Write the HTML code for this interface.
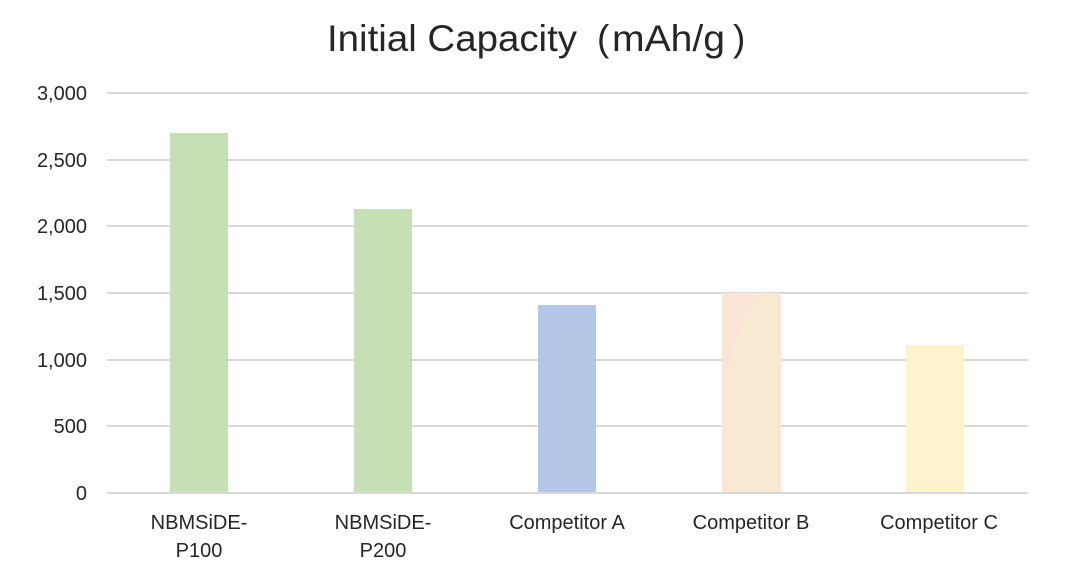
<!DOCTYPE html>
<html><head><style>
body{margin:0;background:#fff;}
svg text{font-family:"Liberation Sans",sans-serif;fill:#262626;}
</style></head><body>
<svg width="1072" height="572" xmlns="http://www.w3.org/2000/svg">
<rect width="1072" height="572" fill="#fff"/>
<text x="327" y="51" font-size="37" textLength="250" lengthAdjust="spacingAndGlyphs">Initial Capacity</text>
<text x="597" y="51" font-size="37">(</text>
<text x="612" y="51" font-size="37" textLength="113" lengthAdjust="spacingAndGlyphs">mAh/g</text>
<text x="733" y="51" font-size="37">)</text>
<g stroke="#d9d9d9" stroke-width="2">
<line x1="107" y1="93" x2="1028" y2="93"/>
<line x1="107" y1="160" x2="1028" y2="160"/>
<line x1="107" y1="226" x2="1028" y2="226"/>
<line x1="107" y1="293" x2="1028" y2="293"/>
<line x1="107" y1="360" x2="1028" y2="360"/>
<line x1="107" y1="426" x2="1028" y2="426"/>
<line x1="107" y1="493" x2="1028" y2="493"/>
</g>
<g font-size="20" text-anchor="end">
<text x="87" y="100">3,000</text>
<text x="87" y="167">2,500</text>
<text x="87" y="233">2,000</text>
<text x="87" y="300">1,500</text>
<text x="87" y="367">1,000</text>
<text x="87" y="433">500</text>
<text x="87" y="500">0</text>
</g>
<rect x="170" y="133" width="58" height="359" fill="#c5e0b4"/>
<rect x="354" y="209" width="58" height="283" fill="#c5e0b4"/>
<rect x="538" y="305" width="58" height="187" fill="#b4c7e7"/>
<rect x="722" y="293" width="59" height="199" fill="#fbe5d6"/>
<path d="M727 492 L727 370 Q745 310 758 298 L777 296 L777 492 Z" fill="#f9ead3"/>
<rect x="906" y="345" width="58" height="147" fill="#fff2cc"/>
<g font-size="20" text-anchor="middle">
<text x="199" y="529">NBMSiDE-</text>
<text x="199" y="557">P100</text>
<text x="383" y="529">NBMSiDE-</text>
<text x="383" y="557">P200</text>
<text x="567" y="529">Competitor A</text>
<text x="751" y="529">Competitor B</text>
<text x="939" y="529">Competitor C</text>
</g>
</svg>
</body></html>
